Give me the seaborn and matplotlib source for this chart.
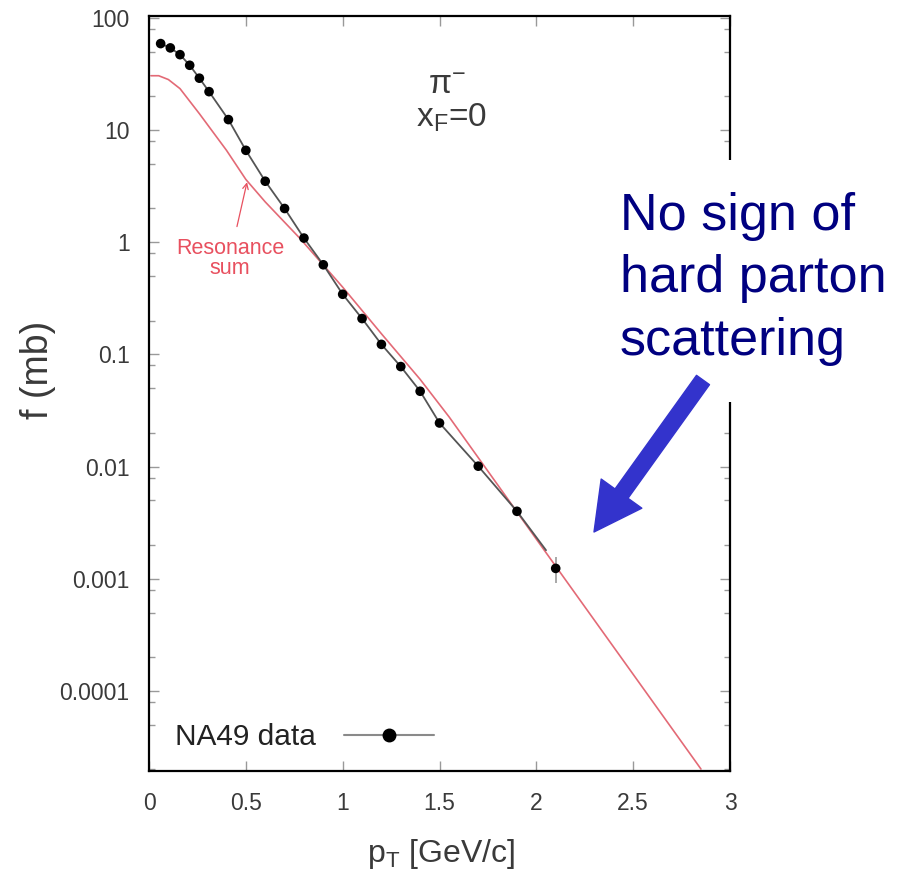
import numpy as np
import pandas as pd
import matplotlib
matplotlib.use('Agg')
import matplotlib.pyplot as plt
import seaborn as sns
from matplotlib.lines import Line2D
from matplotlib.patches import Rectangle, FancyArrowPatch
from matplotlib.ticker import FixedLocator, LogLocator, FuncFormatter, NullFormatter

# NA49 pi- spectrum at x_F = 0
pt_data = [0.06, 0.11, 0.16, 0.21, 0.26, 0.31, 0.41, 0.5, 0.6, 0.7, 0.8, 0.9,
           1.0, 1.1, 1.2, 1.3, 1.4, 1.5, 1.7, 1.9, 2.1]
f_data  = [59, 54, 47, 37.8, 29, 22, 12.4, 6.6, 3.5, 2.0, 1.09, 0.63,
           0.344, 0.209, 0.123, 0.078, 0.047, 0.0245, 0.0101, 0.0040, 0.00124]
f_err   = [0] * 20 + [0.00033]

# black curve through the data
pt_fit = [0.06, 0.11, 0.16, 0.21, 0.26, 0.31, 0.41, 0.5, 0.6, 0.7, 0.8, 0.9,
          1.0, 1.1, 1.2, 1.3, 1.4, 1.5, 1.7, 1.9, 2.05]
f_fit  = [59, 54, 47, 37.8, 29, 22, 12.4, 6.6, 3.5, 2.0, 1.09, 0.63,
          0.344, 0.209, 0.123, 0.078, 0.047, 0.0245, 0.0101, 0.0040, 0.0018]

# resonance sum
pt_res = [0.01, 0.05, 0.10, 0.16, 0.26, 0.40, 0.50, 0.60, 0.78, 1.0, 1.2, 1.4,
          1.55, 1.8, 2.0, 2.5, 2.85]
f_res  = [30.5, 30.5, 28.2, 23.4, 14.0, 6.6, 3.63, 2.29, 1.08, 0.398, 0.153, 0.060,
          0.0277, 0.0069, 0.00226, 1.41e-4, 2.02e-5]

x_ticks = [0, 0.5, 1, 1.5, 2, 2.5, 3]
y_ticks = [1e-4, 1e-3, 1e-2, 0.1, 1, 10, 100]

df_data = pd.DataFrame({'pt': pt_data, 'f': f_data})
df_fit = pd.DataFrame({'pt': pt_fit, 'f': f_fit})
df_res = pd.DataFrame({'pt': pt_res, 'f': f_res})

sns.set_style('ticks')
plt.rcParams['font.family'] = ['Liberation Sans', 'DejaVu Sans']
plt.rcParams['mathtext.default'] = 'regular'

RED = '#e36a76'
RED_TXT = '#e8505f'
GRAY_TXT = '#3a3a3a'

fig = plt.figure(figsize=(9.01, 8.77), dpi=100)
ax = fig.add_axes([0.1654, 0.1209, 0.6448, 0.8609])

sns.lineplot(data=df_res, x='pt', y='f', color=RED, lw=1.2, ax=ax, legend=False)
sns.lineplot(data=df_fit, x='pt', y='f', color='#555555', lw=1.3, ax=ax, legend=False)
ax.errorbar(pt_data, f_data, yerr=f_err, fmt='none', ecolor='#999999', elinewidth=1.2)
sns.scatterplot(data=df_data, x='pt', y='f', color='black', s=48, edgecolor='none', ax=ax, zorder=5)

ax.set_yscale('log')
ax.set_xlim(0, 3)
ax.set_ylim(1.94e-5, 104)
ax.xaxis.set_major_locator(FixedLocator(x_ticks))
ax.yaxis.set_major_locator(FixedLocator(y_ticks))
ax.yaxis.set_minor_locator(LogLocator(base=10, subs=[2, 5, 8]))
fmt = FuncFormatter(lambda v, _: f'{v:g}')
ax.xaxis.set_major_formatter(fmt)
ax.yaxis.set_major_formatter(fmt)
ax.yaxis.set_minor_formatter(NullFormatter())
ax.tick_params(which='both', direction='in', top=True, right=True, color='#999999')
ax.tick_params(which='major', length=7, width=1, labelsize=16.5, labelcolor=GRAY_TXT)
ax.tick_params(axis='y', which='major', pad=14)
ax.tick_params(axis='x', which='major', pad=15)
ax.tick_params(which='minor', length=4, width=1)
for s in ax.spines.values():
    s.set_linewidth(1.6)
    s.set_color('black')
ax.set_xlabel('')
ax.set_ylabel('')

fig.text(0.489, 0.026, 'p$_T$ [GeV/c]', fontsize=23, color=GRAY_TXT, ha='center', va='center')
fig.text(0.042, 0.578, 'f (mb)', fontsize=27, color=GRAY_TXT, rotation=90, ha='center', va='center')

ax.text(0.513, 0.908, 'π$^{−}$', transform=ax.transAxes, fontsize=24, color=GRAY_TXT,
        ha='center', va='center')
ax.text(0.521, 0.853, 'x$_F$=0', transform=ax.transAxes, fontsize=24, color=GRAY_TXT,
        ha='center', va='baseline')

ax.text(0.418, 0.88, 'Resonance', fontsize=15.5, color=RED_TXT, ha='center', va='center')
ax.text(0.418, 0.585, 'sum', fontsize=15.5, color=RED_TXT, ha='center', va='center')
ax.annotate('', xy=(0.506, 3.43), xytext=(0.454, 1.38),
            arrowprops=dict(arrowstyle='->', color=RED_TXT, lw=0.9, shrinkA=0, shrinkB=0))

handle = Line2D([], [], color='#8a8a8a', lw=1.5, marker='o', markersize=9,
                markerfacecolor='black', markeredgecolor='black')
ax.legend([handle], ['NA49 data'], loc='center left', bbox_to_anchor=(0.045, 0.045),
          frameon=False, markerfirst=False, fontsize=21.5, handlelength=3.0,
          handletextpad=0.95, borderpad=0, borderaxespad=0, labelcolor='#222222')

# slide annotation on top of the chart
fig.add_artist(Rectangle((0.679, 0.5416), 0.321, 0.276, transform=fig.transFigure,
                         facecolor='white', edgecolor='none', zorder=10))
for i, line in enumerate(['No sign of', 'hard parton', 'scattering']):
    fig.text(0.688, 1 - (230 + 62.5 * i) / 877, line, fontsize=37.5, color='#000080',
             ha='left', va='baseline', zorder=11)
fig.add_artist(FancyArrowPatch((703 / 901, 497 / 877), (594 / 901, 345 / 877),
                               transform=fig.transFigure, mutation_scale=10,
                               arrowstyle='simple,head_length=3.4,head_width=3.6,tail_width=1.15',
                               color='#3333cc', shrinkA=0, shrinkB=0, zorder=12))

fig.savefig('out.png', dpi=100)
